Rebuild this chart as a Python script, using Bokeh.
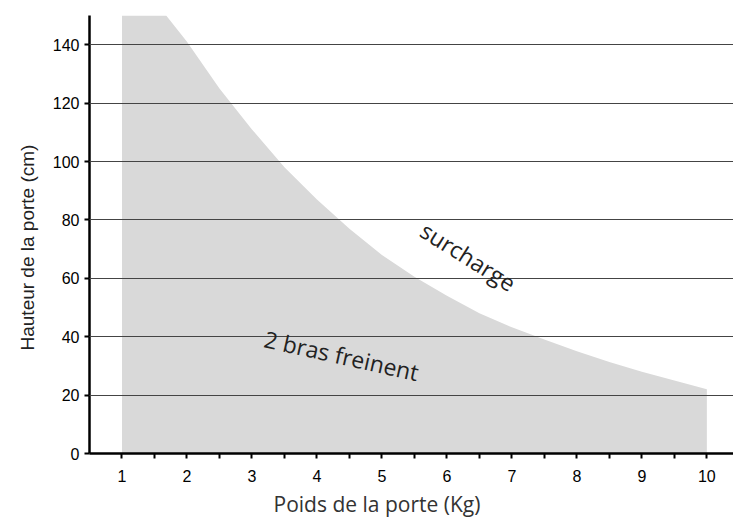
from bokeh.plotting import figure
from bokeh.models import FixedTicker, Label, Range1d, Title
from bokeh.embed import file_html
from bokeh.resources import INLINE

# Data
poids = [1.0, 1.68, 2.0, 2.5, 3.0, 3.5, 4.0, 4.5, 5.0, 5.5, 6.0, 6.5, 7.0, 7.5, 8.0, 8.5, 9.0, 9.5, 10.0]
hauteur = [150, 150, 141, 125, 111, 98, 87, 77, 68, 60.5, 54, 48, 43.2, 39, 35, 31.3, 28, 25, 22]
x_ticks = [1, 2, 3, 4, 5, 6, 7, 8, 9, 10]
x_minor = [1.5, 2.5, 3.5, 4.5, 5.5, 6.5, 7.5, 8.5, 9.5]
y_ticks = [0, 20, 40, 60, 80, 100, 120, 140]
grid_lines = [20, 40, 60, 80, 100, 120, 140, 150]

p = figure(width=733, height=521, output_backend="svg", toolbar_location=None,
           x_range=Range1d(0.5, 10.41), y_range=Range1d(0, 150),
           min_border_left=89, min_border_right=0, min_border_top=15, min_border_bottom=68)
p.outline_line_color = None
p.background_fill_color = "white"

p.varea(x=poids, y1=[0] * len(poids), y2=hauteur, fill_color="#d9d9d9")

# axes
for ax in (p.xaxis, p.yaxis):
    ax.axis_line_width = 2.5
    ax.axis_line_color = "black"
    ax.major_tick_line_color = "black"
    ax.major_tick_line_width = 2
    ax.major_tick_in = 0
    ax.major_tick_out = 5
    ax.major_label_text_font = "Liberation Sans"
    ax.major_label_text_font_size = "16px"
    ax.major_label_text_color = "black"

p.xaxis.ticker = FixedTicker(ticks=x_ticks, minor_ticks=x_minor)
p.xaxis.minor_tick_line_color = "black"
p.xaxis.minor_tick_line_width = 2
p.xaxis.minor_tick_in = 0
p.xaxis.minor_tick_out = 5
p.xaxis.major_label_standoff = 11

p.yaxis.ticker = FixedTicker(ticks=y_ticks)
p.yaxis.minor_tick_line_color = None
p.yaxis.major_label_standoff = 5

p.xgrid.grid_line_color = None
p.ygrid.ticker = FixedTicker(ticks=grid_lines)
p.ygrid.grid_line_color = "#444444"
p.ygrid.grid_line_width = 1
p.ygrid.level = "annotation"

# axis titles
p.add_layout(Title(text="Poids de la porte (Kg)", align="left", offset=184,
                   text_font="Open Sans", text_font_size="21px", text_font_style="normal",
                   text_color="#333333", standoff=6), "below")
p.add_layout(Title(text="Hauteur de la porte (cm)", align="left", offset=103,
                   text_font="Liberation Sans", text_font_size="19px", text_font_style="normal",
                   text_color="#222222", standoff=24), "left")

# annotations
p.add_layout(Label(x=6.33, y=67.5, text="surcharge", text_font="Open Sans",
                   text_font_size="23px", text_color="#222222", text_align="center",
                   text_baseline="middle", angle=-0.56))
p.add_layout(Label(x=4.38, y=33.6, text="2 bras freinent", text_font="Open Sans",
                   text_font_size="23px", text_color="#222222", text_align="center",
                   text_baseline="middle", angle=-0.22))

open("out.html", "w").write(file_html(p, INLINE))
